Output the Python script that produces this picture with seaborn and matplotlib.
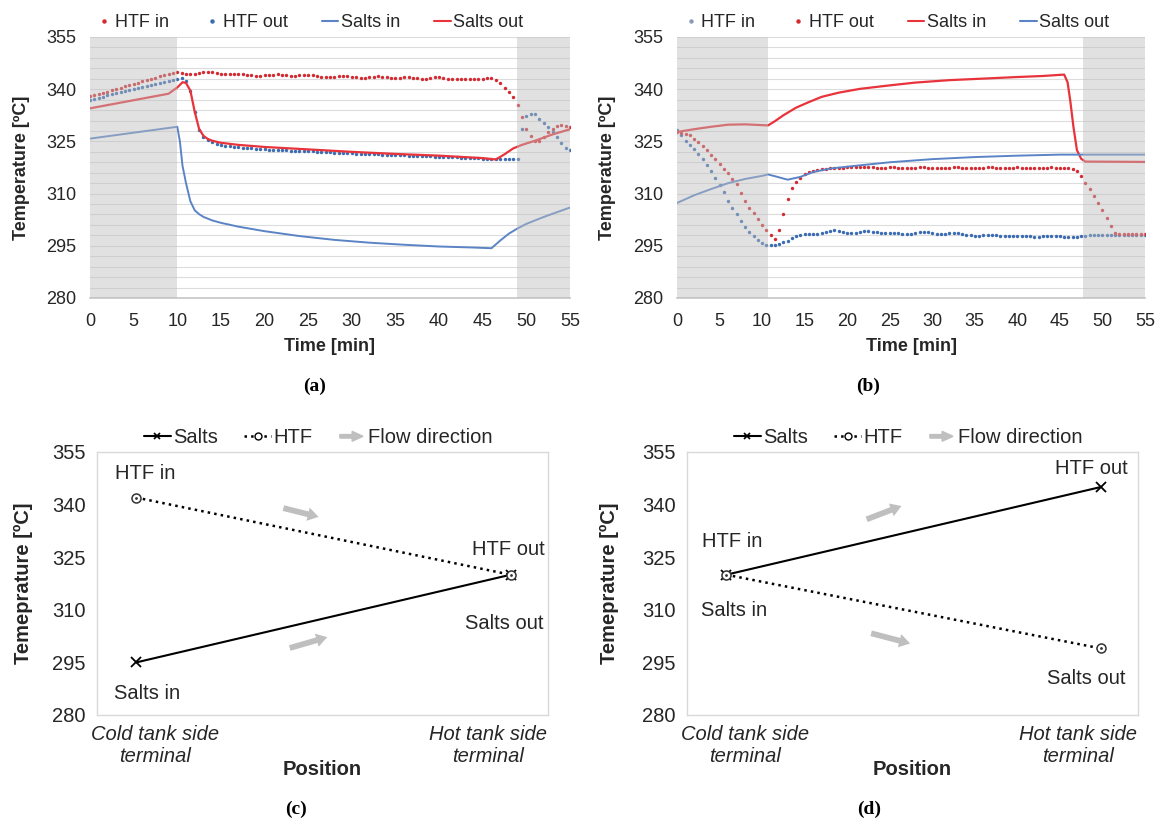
import numpy as np
import pandas as pd
import matplotlib
matplotlib.use("Agg")
import matplotlib.pyplot as plt
import seaborn as sns
from matplotlib.lines import Line2D
import matplotlib.patches as mpatches
from matplotlib.legend_handler import HandlerPatch

# ---------------- data ----------------
# sampling grid of the dotted (HTF) series, minutes
t_dots = np.arange(0, 55.01, 0.5)

# (a) charge
htf_in_a = [338.0, 338.3, 338.6, 339.0, 339.3, 339.7, 340.0, 340.4, 340.8, 341.1,
            341.5, 341.9, 342.3, 342.6, 343.0, 343.3, 343.7, 344.0, 344.4, 344.7,
            345.0, 344.7, 344.4, 344.3, 344.4, 344.6, 344.8, 344.9, 344.8, 344.6,
            344.4, 344.3, 344.3, 344.4, 344.5, 344.4, 344.2, 344.0, 343.9, 343.9,
            344.0, 344.1, 344.2, 344.3, 344.2, 344.0, 343.9, 343.9, 344.0, 344.1,
            344.1, 344.0, 343.8, 343.6, 343.5, 343.5, 343.6, 343.7, 343.8, 343.8,
            343.6, 343.4, 343.3, 343.3, 343.4, 343.6, 343.7, 343.6, 343.4, 343.2,
            343.2, 343.3, 343.5, 343.5, 343.3, 343.1, 343.0, 343.0, 343.2, 343.4,
            343.4, 343.2, 343.0, 342.9, 342.9, 343.0, 343.0, 342.9, 342.8, 342.9,
            343.0, 343.1, 343.1, 342.7, 341.8, 340.4, 339.3, 337.8, 335.5, 332.0,
            328.5, 326.5, 325.2, 325.0, 326.3, 327.6, 328.7, 329.3, 329.6, 329.4,
            329.0]
htf_out_a = [337.0, 337.3, 337.6, 337.9, 338.2, 338.5, 338.8, 339.1, 339.4, 339.7,
             340.0, 340.3, 340.6, 340.9, 341.2, 341.5, 341.8, 342.1, 342.3, 342.6,
             342.8, 343.1, 342.5, 339.4, 333.4, 328.4, 326.3, 325.3, 324.7, 324.3,
             324.0, 323.8, 323.6, 323.4, 323.3, 323.2, 323.1, 323.0, 322.9, 322.8,
             322.7, 322.6, 322.6, 322.5, 322.4, 322.4, 322.3, 322.3, 322.2, 322.2,
             322.1, 322.1, 322.0, 322.0, 321.9, 321.9, 321.8, 321.8, 321.7, 321.7,
             321.6, 321.5, 321.5, 321.4, 321.4, 321.3, 321.3, 321.2, 321.2, 321.1,
             321.1, 321.0, 321.0, 320.9, 320.9, 320.8, 320.8, 320.7, 320.7, 320.6,
             320.6, 320.5, 320.5, 320.4, 320.4, 320.3, 320.3, 320.2, 320.2, 320.1,
             320.0, 319.9, 319.8, 319.8, 319.8, 319.8, 319.8, 319.8, 319.8, 328.5,
             332.3, 332.9, 332.8, 331.5, 330.4, 329.2, 327.8, 326.3, 324.5, 323.0,
             322.5]
t_salts_in_a = [0, 10, 10.3, 10.6, 11, 11.5, 12, 12.5, 13, 14, 15, 17, 20, 24, 28,
                32, 36, 40, 44, 46, 47, 48, 49, 50, 52, 55]
salts_in_a = [325.8, 329.2, 325.0, 318.0, 313.0, 307.8, 305.2, 304.1, 303.3, 302.3,
              301.6, 300.5, 299.2, 297.8, 296.7, 295.9, 295.3, 294.8, 294.5, 294.3,
              296.5, 298.5, 300.0, 301.3, 303.3, 306.0]
t_salts_out_a = [0, 9, 10, 10.6, 11, 11.5, 12, 12.5, 13, 13.5, 14, 15, 17, 20, 25,
                 30, 35, 40, 45, 46.5, 47.5, 48.5, 49.5, 51, 53, 55]
salts_out_a = [334.5, 338.7, 340.5, 342.0, 341.8, 339.6, 333.5, 328.6, 326.6, 325.7,
               325.2, 324.6, 324.0, 323.4, 322.7, 322.0, 321.4, 320.9, 320.2, 319.8,
               321.3, 323.0, 324.0, 325.2, 327.0, 328.5]

# (b) discharge
htf_in_b = [328.3, 326.8, 325.2, 324.0, 322.7, 321.3, 319.8, 318.1, 316.4, 314.4,
            312.6, 310.5, 307.8, 305.8, 304.2, 302.0, 300.5, 299.1, 297.9, 296.6,
            295.7, 295.3, 295.2, 295.3, 295.6, 296.0, 296.5, 297.2, 297.8, 298.1,
            298.3, 298.3, 298.4, 298.5, 298.7, 299.0, 299.3, 299.4, 299.3, 299.0,
            298.8, 298.7, 298.8, 299.1, 299.3, 299.3, 299.1, 298.9, 298.7, 298.7,
            298.8, 298.8, 298.7, 298.5, 298.4, 298.5, 298.7, 298.9, 299.0, 298.9,
            298.6, 298.4, 298.3, 298.4, 298.6, 298.7, 298.7, 298.5, 298.2, 298.0,
            297.9, 297.9, 298.0, 298.1, 298.1, 298.0, 297.9, 297.8, 297.8, 297.9,
            297.9, 297.9, 297.8, 297.7, 297.6, 297.6, 297.7, 297.8, 297.9, 297.9,
            297.8, 297.6, 297.4, 297.4, 297.6, 297.8, 297.9, 298.0, 298.0, 298.0,
            298.0, 298.0, 298.0, 298.0, 298.0, 298.0, 298.0, 298.0, 298.0, 298.0,
            298.0]
htf_out_b = [327.6, 327.4, 327.2, 326.9, 325.8, 324.8, 323.8, 322.5, 321.2, 319.8,
             318.5, 317.2, 315.8, 314.3, 312.8, 310.2, 308.0, 306.0, 304.3, 302.7,
             301.1, 299.4, 298.1, 296.9, 299.5, 304.2, 308.5, 311.5, 313.3, 314.6,
             315.5, 316.1, 316.5, 316.8, 317.0, 317.2, 317.3, 317.4, 317.5, 317.5,
             317.6, 317.6, 317.6, 317.7, 317.7, 317.6, 317.6, 317.5, 317.5, 317.5,
             317.6, 317.6, 317.5, 317.5, 317.4, 317.5, 317.5, 317.6, 317.6, 317.5,
             317.5, 317.4, 317.4, 317.5, 317.5, 317.6, 317.6, 317.5, 317.5, 317.4,
             317.4, 317.5, 317.5, 317.6, 317.6, 317.5, 317.5, 317.4, 317.5, 317.5,
             317.6, 317.5, 317.5, 317.4, 317.4, 317.5, 317.5, 317.5, 317.6, 317.5,
             317.5, 317.5, 317.4, 317.2, 316.5, 315.0, 313.0, 311.2, 309.4, 307.4,
             305.3, 303.0, 300.6, 298.6, 298.4, 298.4, 298.4, 298.4, 298.4, 298.4,
             298.4]
t_salts_in_b = [0, 2, 4, 6, 8, 10.7, 11.5, 12.5, 14, 15.5, 17, 19, 21.5, 25, 28, 32,
                36.5, 40, 43, 45.5, 45.9, 46.2, 46.6, 47, 47.5, 48, 55]
salts_in_b = [327.7, 328.5, 329.2, 329.8, 329.9, 329.6, 330.8, 332.5, 334.7, 336.3,
              337.8, 339.0, 340.1, 341.1, 341.9, 342.6, 343.1, 343.5, 343.8, 344.2,
              342.0, 337.0, 329.0, 322.5, 320.0, 319.2, 319.1]
t_salts_out_b = [0, 2, 4, 6, 8, 10, 10.7, 11.5, 13, 14.5, 16, 18, 21, 25, 30, 35,
                 40, 45, 48, 55]
salts_out_b = [307.3, 309.5, 311.3, 313.0, 314.2, 315.1, 315.5, 315.0, 314.0, 314.8,
               316.2, 317.2, 318.0, 319.0, 319.9, 320.5, 320.9, 321.2, 321.2, 321.2]

# (c) / (d) position profiles
positions = [0, 1]
pos_labels = ["Cold tank side\nterminal", "Hot tank side\nterminal"]
salts_c = [295, 320]
htf_c = [342, 320]
salts_d = [320, 345]
htf_d = [320, 299]

# ---------------- style ----------------
sns.set_theme(style="white")
plt.rcParams["font.family"] = ["Liberation Sans", "DejaVu Sans"]

RED_DOT = "#d42a32"
RED_LINE = "#e8333b"
BLUE_DOT = "#3a6bb3"
BLUE_LINE = "#5b84c6"
GRAY_ARROW = "#bfbfbf"
TXT = "#262626"

W, H = 1159, 825
fig = plt.figure(figsize=(W / 100, H / 100), dpi=100)


def px_axes(l, t, r, b):
    return fig.add_axes([l / W, 1 - b / H, (r - l) / W, (b - t) / H])


def style_time(ax, spans):
    ax.set_xlim(0, 55)
    ax.set_ylim(280, 355)
    ax.set_xticks(range(0, 56, 5))
    ax.set_yticks(range(280, 356, 15))
    ax.set_yticks(np.arange(280, 356, 3), minor=True)
    ax.grid(which="both", axis="y", color="#dcdcdc", lw=0.8)
    ax.grid(False, axis="x")
    ax.set_axisbelow(True)
    for s in ["top", "right", "left"]:
        ax.spines[s].set_visible(False)
    ax.spines["bottom"].set_color("#c8c8c8")
    ax.tick_params(axis="both", which="both", length=0, labelsize=13, colors=TXT)
    ax.tick_params(axis="x", pad=11)
    ax.tick_params(axis="y", pad=10)
    for a, b in spans:
        ax.axvspan(a, b, color="#bdbdbd", alpha=0.45, lw=0, zorder=5)
    ax.set_xlabel("Time [min]", fontsize=13, fontweight="bold", color=TXT)
    ax.xaxis.set_label_coords(0.5, -0.155)
    ax.set_ylabel("Temperature [ºC]", fontsize=13, fontweight="bold", color=TXT)


def dots(ax, y, color):
    sns.scatterplot(x=t_dots, y=y, ax=ax, color=color, s=6, linewidth=0, zorder=3)


def line(ax, x, y, color, lw=1.5):
    sns.lineplot(x=x, y=y, ax=ax, color=color, lw=lw, zorder=3)


def time_legend(ax, entries, xc):
    handles = []
    for kind, col in entries:
        if kind == "dot":
            handles.append(Line2D([], [], ls="none", marker="o", ms=2.2, color=col))
        else:
            handles.append(Line2D([], [], color=col, lw=1.5))
    labels = ["HTF in", "HTF out", "Salts in", "Salts out"]
    ax.legend(handles, labels, loc="lower center", bbox_to_anchor=(xc, 1.015),
              ncol=4, frameon=False, fontsize=13, handlelength=0.9,
              handletextpad=0.15, columnspacing=1.9, borderaxespad=0,
              borderpad=0.1, labelcolor=TXT)


# ---- (a)
ax_a = px_axes(90, 37, 570, 298)
dots(ax_a, htf_in_a, RED_DOT)
dots(ax_a, htf_out_a, BLUE_DOT)
line(ax_a, t_salts_in_a, salts_in_a, BLUE_LINE, 1.4)
line(ax_a, t_salts_out_a, salts_out_a, RED_LINE, 1.6)
style_time(ax_a, [(0, 10.0), (48.9, 55)])
ax_a.yaxis.set_label_coords(-0.125, 0.5)
time_legend(ax_a, [("dot", RED_DOT), ("dot", BLUE_DOT), ("line", BLUE_LINE),
                   ("line", RED_LINE)], 0.458)

# ---- (b)
ax_b = px_axes(677, 37, 1145, 298)
dots(ax_b, htf_in_b, BLUE_DOT)
dots(ax_b, htf_out_b, RED_DOT)
line(ax_b, t_salts_in_b, salts_in_b, RED_LINE, 1.6)
line(ax_b, t_salts_out_b, salts_out_b, BLUE_LINE, 1.4)
style_time(ax_b, [(0, 10.7), (47.7, 55)])
ax_b.yaxis.set_label_coords(-0.13, 0.5)
time_legend(ax_b, [("dot", "#8a9bb8"), ("dot", RED_DOT), ("line", RED_LINE),
                   ("line", BLUE_LINE)], 0.468)


# ---- (c) / (d)
def make_arrow(legend, orig_handle, xdescent, ydescent, width, height, fontsize):
    return mpatches.FancyArrow(-xdescent + width * 0.05, height / 2 - ydescent,
                               width * 0.85, 0, width=height * 0.25,
                               head_width=height * 0.7, head_length=width * 0.4,
                               length_includes_head=True, color=GRAY_ARROW, lw=0)


def style_pos(ax, label_x):
    ax.set_xlim(-0.105, 1.10)
    ax.set_ylim(280, 355)
    ax.set_yticks(range(280, 356, 15))
    ax.set_xticks([0.05, 0.94])
    ax.set_xticklabels(pos_labels, fontstyle="italic", multialignment="center")
    ax.grid(False)
    for s in ax.spines.values():
        s.set_color("#d9d9d9")
        s.set_linewidth(1.0)
    ax.tick_params(axis="both", length=0, labelsize=14.5, colors=TXT)
    ax.tick_params(axis="x", pad=7)
    ax.tick_params(axis="y", pad=8)
    ax.set_xlabel("Position", fontsize=14.5, fontweight="bold", color=TXT)
    ax.xaxis.set_label_coords(0.5, -0.17)
    ax.set_ylabel("Temeprature [ºC]", fontsize=14.5, fontweight="bold", color=TXT)
    ax.yaxis.set_label_coords(label_x, 0.5)
    h_s = Line2D([], [], color="black", lw=1.5, marker="x", ms=5, mew=1.2,
                 mec="black")
    h_h = Line2D([], [], color="black", lw=1.8, ls=":", marker="o", ms=5,
                 mfc="white", mec="black", mew=1.0)
    h_a = mpatches.FancyArrow(0, 0, 1, 0, color=GRAY_ARROW)
    ax.legend([h_s, h_h, h_a], ["Salts", "HTF", "Flow direction"],
              handler_map={mpatches.FancyArrow: HandlerPatch(patch_func=make_arrow)},
              loc="lower center", bbox_to_anchor=(0.49, 1.01), ncol=3,
              frameon=False, fontsize=14.5, handlelength=1.35, handletextpad=0.1,
              columnspacing=1.3, borderaxespad=0, borderpad=0.1, labelcolor=TXT)


def profiles(ax, salts, htf):
    sns.lineplot(x=positions, y=salts, ax=ax, color="black", lw=1.5, marker="x",
                 ms=7, mew=1.3, mec="black", zorder=3)
    sns.lineplot(x=positions, y=htf, ax=ax, color="black", lw=1.8, ls=":",
                 marker="o", ms=6.5, mfc="white", mec="#333333", mew=1.1, zorder=4)
    sns.scatterplot(x=positions, y=htf, ax=ax, color="#333333", s=4, linewidth=0,
                    zorder=5)


def flow_arrow(ax, x0, y0, x1, y1):
    ax.annotate("", xy=(x1, y1), xytext=(x0, y0),
                arrowprops=dict(arrowstyle="simple,head_length=0.6,head_width=0.75,tail_width=0.32",
                                color=GRAY_ARROW, lw=0, shrinkA=0, shrinkB=0,
                                mutation_scale=13))


def note(ax, x, y, s):
    ax.text(x, y, s, ha="center", va="center", fontsize=14.5, color=TXT)


ax_c = px_axes(97, 452, 548, 715)
profiles(ax_c, salts_c, htf_c)
style_pos(ax_c, -0.143)
flow_arrow(ax_c, 0.393, 339.0, 0.487, 336.5)
flow_arrow(ax_c, 0.41, 299.1, 0.51, 302.2)
note(ax_c, 0.024, 349.0, "HTF in")
note(ax_c, 0.995, 327.3, "HTF out")
note(ax_c, 0.984, 306.1, "Salts out")
note(ax_c, 0.029, 286.0, "Salts in")

ax_d = px_axes(687, 452, 1138, 715)
profiles(ax_d, salts_d, htf_d)
style_pos(ax_d, -0.151)
flow_arrow(ax_d, 0.375, 335.8, 0.468, 339.6)
flow_arrow(ax_d, 0.387, 303.3, 0.491, 300.4)
note(ax_d, 0.975, 350.3, "HTF out")
note(ax_d, 0.016, 329.4, "HTF in")
note(ax_d, 0.02, 309.7, "Salts in")
note(ax_d, 0.963, 290.5, "Salts out")

# panel letters
for x, y, s in [(315, 386, "(a)"), (868, 386, "(b)"), (296, 809, "(c)"), (869, 809, "(d)")]:
    fig.text(x / W, 1 - y / H, s, ha="center", va="center", fontsize=14,
             fontweight="bold", family=["Liberation Serif", "DejaVu Serif"], color="black")

fig.savefig("out.png", dpi=100, facecolor="white")
